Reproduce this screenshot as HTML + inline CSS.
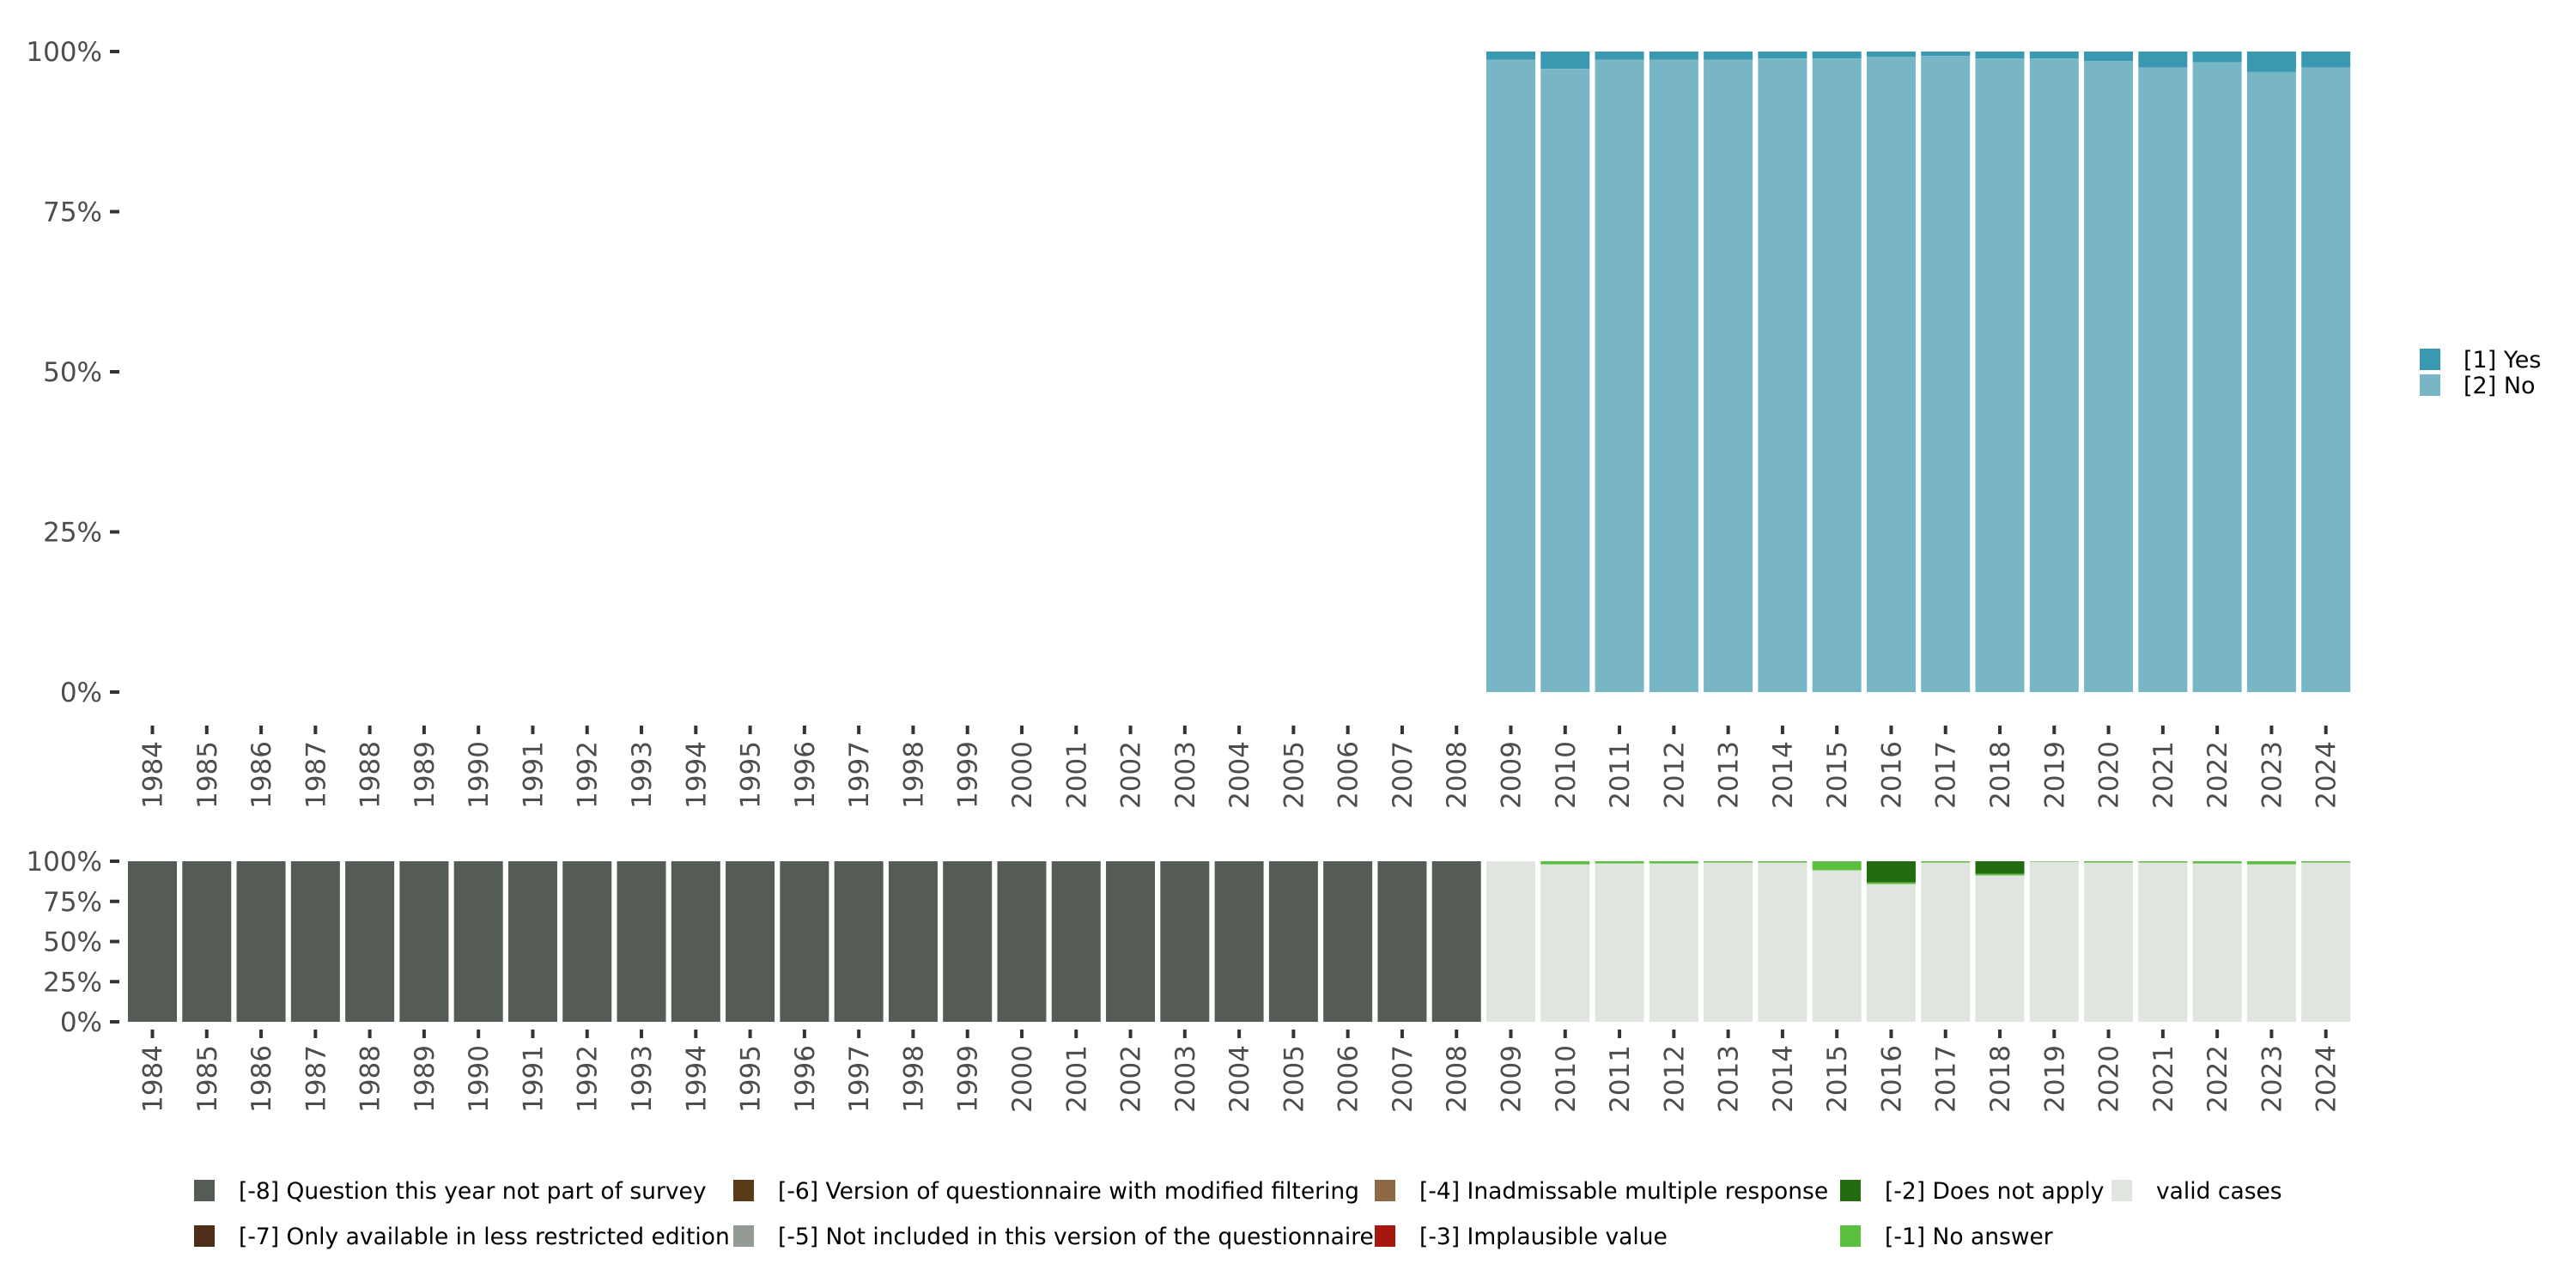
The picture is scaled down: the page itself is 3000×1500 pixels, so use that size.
<!DOCTYPE html>
<html><head><meta charset="utf-8"><style>
body{margin:0;background:#fff;}
svg{display:block;font-family:"DejaVu Sans","Liberation Sans",sans-serif;}
</style></head><body>
<svg id="chart" width="3000" height="1500" viewBox="0 0 3000 1500"></svg>
<script>
const years = [];
for (let y = 1984; y <= 2024; y++) years.push(y);
// top panel (2009-2024), shares in %
const surveyYears = [2009,2010,2011,2012,2013,2014,2015,2016,2017,2018,2019,2020,2021,2022,2023,2024];
const yesPct = [1.3,2.7,1.3,1.3,1.3,1.1,1.1,0.8,0.7,1.1,1.1,1.5,2.5,1.7,3.2,2.5];
// bottom panel missing categories (%)
const doesNotApplyPct = [0,0,0,0,0,0,0,13.2,0,7.8,0,0,0,0,0,0];
const noAnswerPct = [0,2,1.4,1.4,0.9,0.9,5.7,1.1,0.9,1.1,0.4,0.9,0.9,1.4,2,0.9];
const yTicks = [0,25,50,75,100];
const yTickLabels = ["0%","25%","50%","75%","100%"];

const NS = "http://www.w3.org/2000/svg";
const svg = document.getElementById('chart');
function el(tag, attrs, parent){
  const e = document.createElementNS(NS, tag);
  for (const k in attrs) e.setAttribute(k, attrs[k]);
  (parent||svg).appendChild(e);
  return e;
}
const step = 63.28, x0 = 177.5, bw = 57;
const xc = i => x0 + i*step;
const topP = {t:60, b:806};
const botP = {t:1003, b:1190};
const yS = (p, v) => p.b - (p.b - p.t) * v / 100;

function axes(p, name, tickY){
  const g = el('g', {});
  
  
  yTicks.forEach((v, i) => {
    const y = yS(p, v);
    const t = el('line', {x1:128, x2:139, y1:y, y2:y, stroke:'#333', 'stroke-width':4}, g);
    
    
    const tx = el('text', {x:119, y:y+11, 'text-anchor':'end', 'font-size':31, fill:'#4d4d4d'}, g);
    tx.textContent = yTickLabels[i];
    
    
  });
  const gx = el('g', {});
  
  
  years.forEach((yr, i) => {
    const x = xc(i);
    const t = el('line', {x1:x, x2:x, y1:tickY, y2:tickY+10, stroke:'#333', 'stroke-width':4}, gx);
    
    
    const tx = el('text', {x:0, y:0, 'text-anchor':'end', 'font-size':31, fill:'#4d4d4d',
      transform:`translate(${x+11},${tickY+18}) rotate(-90)`}, gx);
    tx.textContent = yr;
    
    
  });
}
axes(topP, 'top', 845);
axes(botP, 'bottom', 1199);

// top bars
surveyYears.forEach((yr, j) => {
  const i = years.indexOf(yr);
  const x = xc(i) - bw/2;
  const ySplit = yS(topP, 100 - yesPct[j]);
  const r1 = el('rect', {x:x, width:bw, y:topP.t, height:ySplit-topP.t, fill:'#3a99b1'});
  
  
  const r2 = el('rect', {x:x, width:bw, y:ySplit, height:topP.b-ySplit, fill:'#78b6c5'});
  
  
});

// bottom bars
years.forEach((yr, i) => {
  const x = xc(i) - bw/2;
  const j = surveyYears.indexOf(yr);
  if (j < 0) {
    const r = el('rect', {x:x, width:bw, y:botP.t, height:botP.b-botP.t, fill:'#555b55'});
    
    
    return;
  }
  const d = doesNotApplyPct[j], n = noAnswerPct[j];
  const y1 = yS(botP, 100 - d), y2 = yS(botP, 100 - d - n);
  const r1 = el('rect', {x:x, width:bw, y:botP.t, height:y1-botP.t, fill:'#226b10'});
  
  
  const r2 = el('rect', {x:x, width:bw, y:y1, height:y2-y1, fill:'#5bbf40'});
  
  
  const r3 = el('rect', {x:x, width:bw, y:y2, height:botP.b-y2, fill:'#e0e5e0'});
  
  
});

// top legend
const topLegend = [["[1] Yes","#3a99b1"],["[2] No","#78b6c5"]];
topLegend.forEach((d, i) => {
  const g = el('g', {});
  
  
  el('rect', {x:2818, y:406+i*30, width:24, height:25, fill:d[1]}, g);
  const t = el('text', {x:2869, y:428+i*30, 'font-size':27, fill:'#000'}, g);
  t.textContent = d[0];
});

// bottom legend
const botLegend = [
  [226,1374,"#555b55","[-8] Question this year not part of survey"],
  [226,1427,"#4d2f19","[-7] Only available in less restricted edition"],
  [854,1374,"#5b3a19","[-6] Version of questionnaire with modified filtering"],
  [854,1427,"#949a94","[-5] Not included in this version of the questionnaire"],
  [1601,1374,"#8d6a45","[-4] Inadmissable multiple response"],
  [1601,1427,"#a6170f","[-3] Implausible value"],
  [2143,1374,"#226b10","[-2] Does not apply"],
  [2143,1427,"#5bbf40","[-1] No answer"],
  [2459,1374,"#e0e5e0","valid cases"]
];
botLegend.forEach(d => {
  const g = el('g', {});
  
  
  el('rect', {x:d[0], y:d[1], width:24, height:25, fill:d[2]}, g);
  const t = el('text', {x:d[0]+52, y:d[1]+22, 'font-size':26.5, fill:'#000'}, g);
  t.textContent = d[3];
});
</script>
</body></html>
